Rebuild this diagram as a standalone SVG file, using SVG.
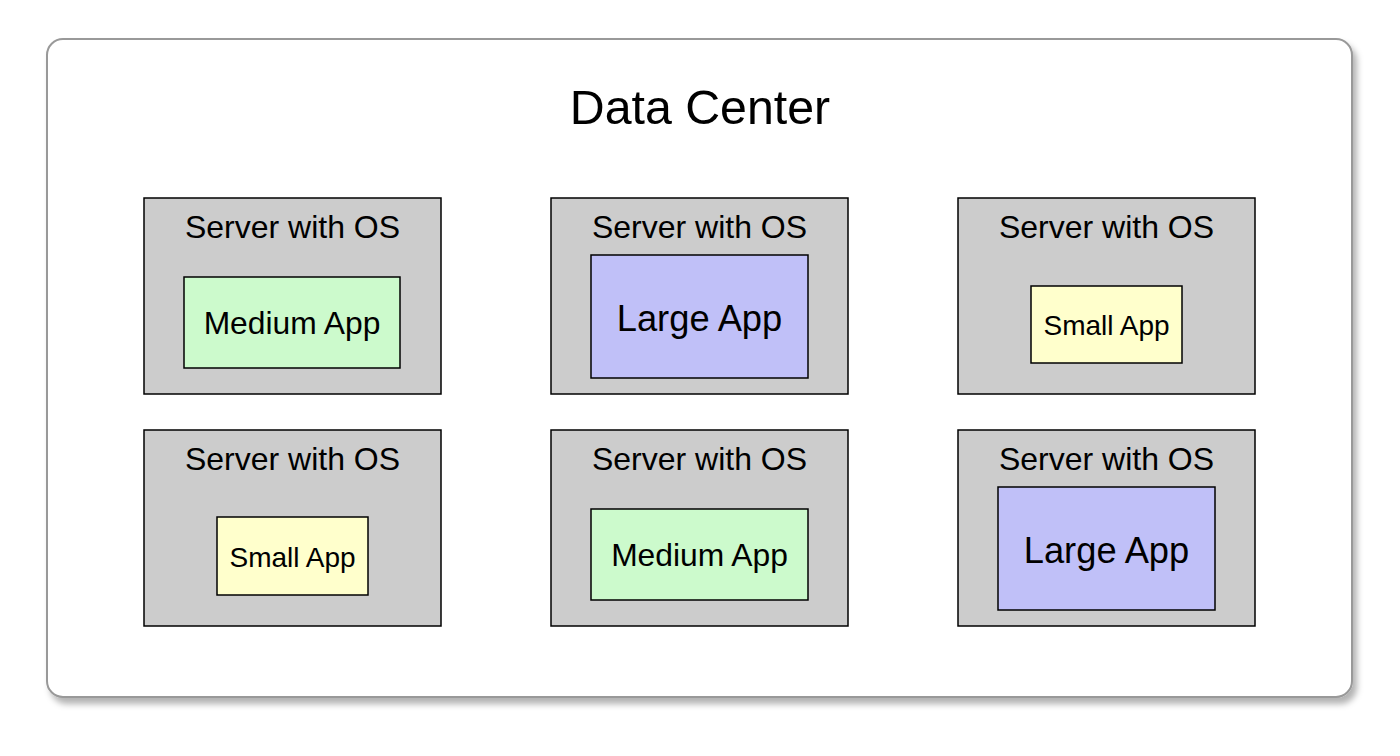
<svg xmlns="http://www.w3.org/2000/svg" width="1400" height="756" viewBox="0 0 1400 756">
<defs>
<filter id="sh" x="-5%" y="-5%" width="112%" height="115%">
<feGaussianBlur in="SourceAlpha" stdDeviation="3"/>
<feOffset dx="4" dy="6" result="b"/>
<feFlood flood-color="#000" flood-opacity="0.3"/>
<feComposite in2="b" operator="in"/>
<feMerge><feMergeNode/><feMergeNode in="SourceGraphic"/></feMerge>
</filter>
<style>
text{font-family:"Liberation Sans",Arial,Helvetica,sans-serif;fill:#000;text-anchor:middle}
.srv{fill:#cccccc;stroke:#000;stroke-width:1.5}
.med{fill:#ccfacc;stroke:#000;stroke-width:1.5}
.lrg{fill:#c0c0f8;stroke:#000;stroke-width:1.5}
.sml{fill:#ffffcc;stroke:#000;stroke-width:1.5}
.st{font-size:32px}
.mt{font-size:31.8px}
.lt{font-size:36.3px}
.smt{font-size:28px}
</style>
</defs>
<g id="datacenter">
<rect x="47" y="39" width="1305" height="658" rx="16" fill="#fff" stroke="#999" stroke-width="2" filter="url(#sh)"/>
<text x="700" y="124" font-size="48.3">Data Center</text>
</g>
<g id="server1"><rect class="srv" x="144" y="198" width="297" height="196"/><text class="st" x="292.5" y="238">Server with OS</text></g>
<g id="app1"><rect class="med" x="184" y="277" width="216" height="91"/><text class="mt" x="292" y="334">Medium App</text></g>
<g id="server2"><rect class="srv" x="551" y="198" width="297" height="196"/><text class="st" x="699.5" y="238">Server with OS</text></g>
<g id="app2"><rect class="lrg" x="591" y="255" width="217" height="123"/><text class="lt" x="699.5" y="331">Large App</text></g>
<g id="server3"><rect class="srv" x="958" y="198" width="297" height="196"/><text class="st" x="1106.5" y="238">Server with OS</text></g>
<g id="app3"><rect class="sml" x="1031" y="286" width="151" height="77"/><text class="smt" x="1106.5" y="335">Small App</text></g>
<g id="server4"><rect class="srv" x="144" y="430" width="297" height="196"/><text class="st" x="292.5" y="470">Server with OS</text></g>
<g id="app4"><rect class="sml" x="217" y="517" width="151" height="78"/><text class="smt" x="292.5" y="567">Small App</text></g>
<g id="server5"><rect class="srv" x="551" y="430" width="297" height="196"/><text class="st" x="699.5" y="470">Server with OS</text></g>
<g id="app5"><rect class="med" x="591" y="509" width="217" height="91"/><text class="mt" x="699.5" y="566">Medium App</text></g>
<g id="server6"><rect class="srv" x="958" y="430" width="297" height="196"/><text class="st" x="1106.5" y="470">Server with OS</text></g>
<g id="app6"><rect class="lrg" x="998" y="487" width="217" height="123"/><text class="lt" x="1106.5" y="563">Large App</text></g>
<g id="connectors"/>
</svg>
